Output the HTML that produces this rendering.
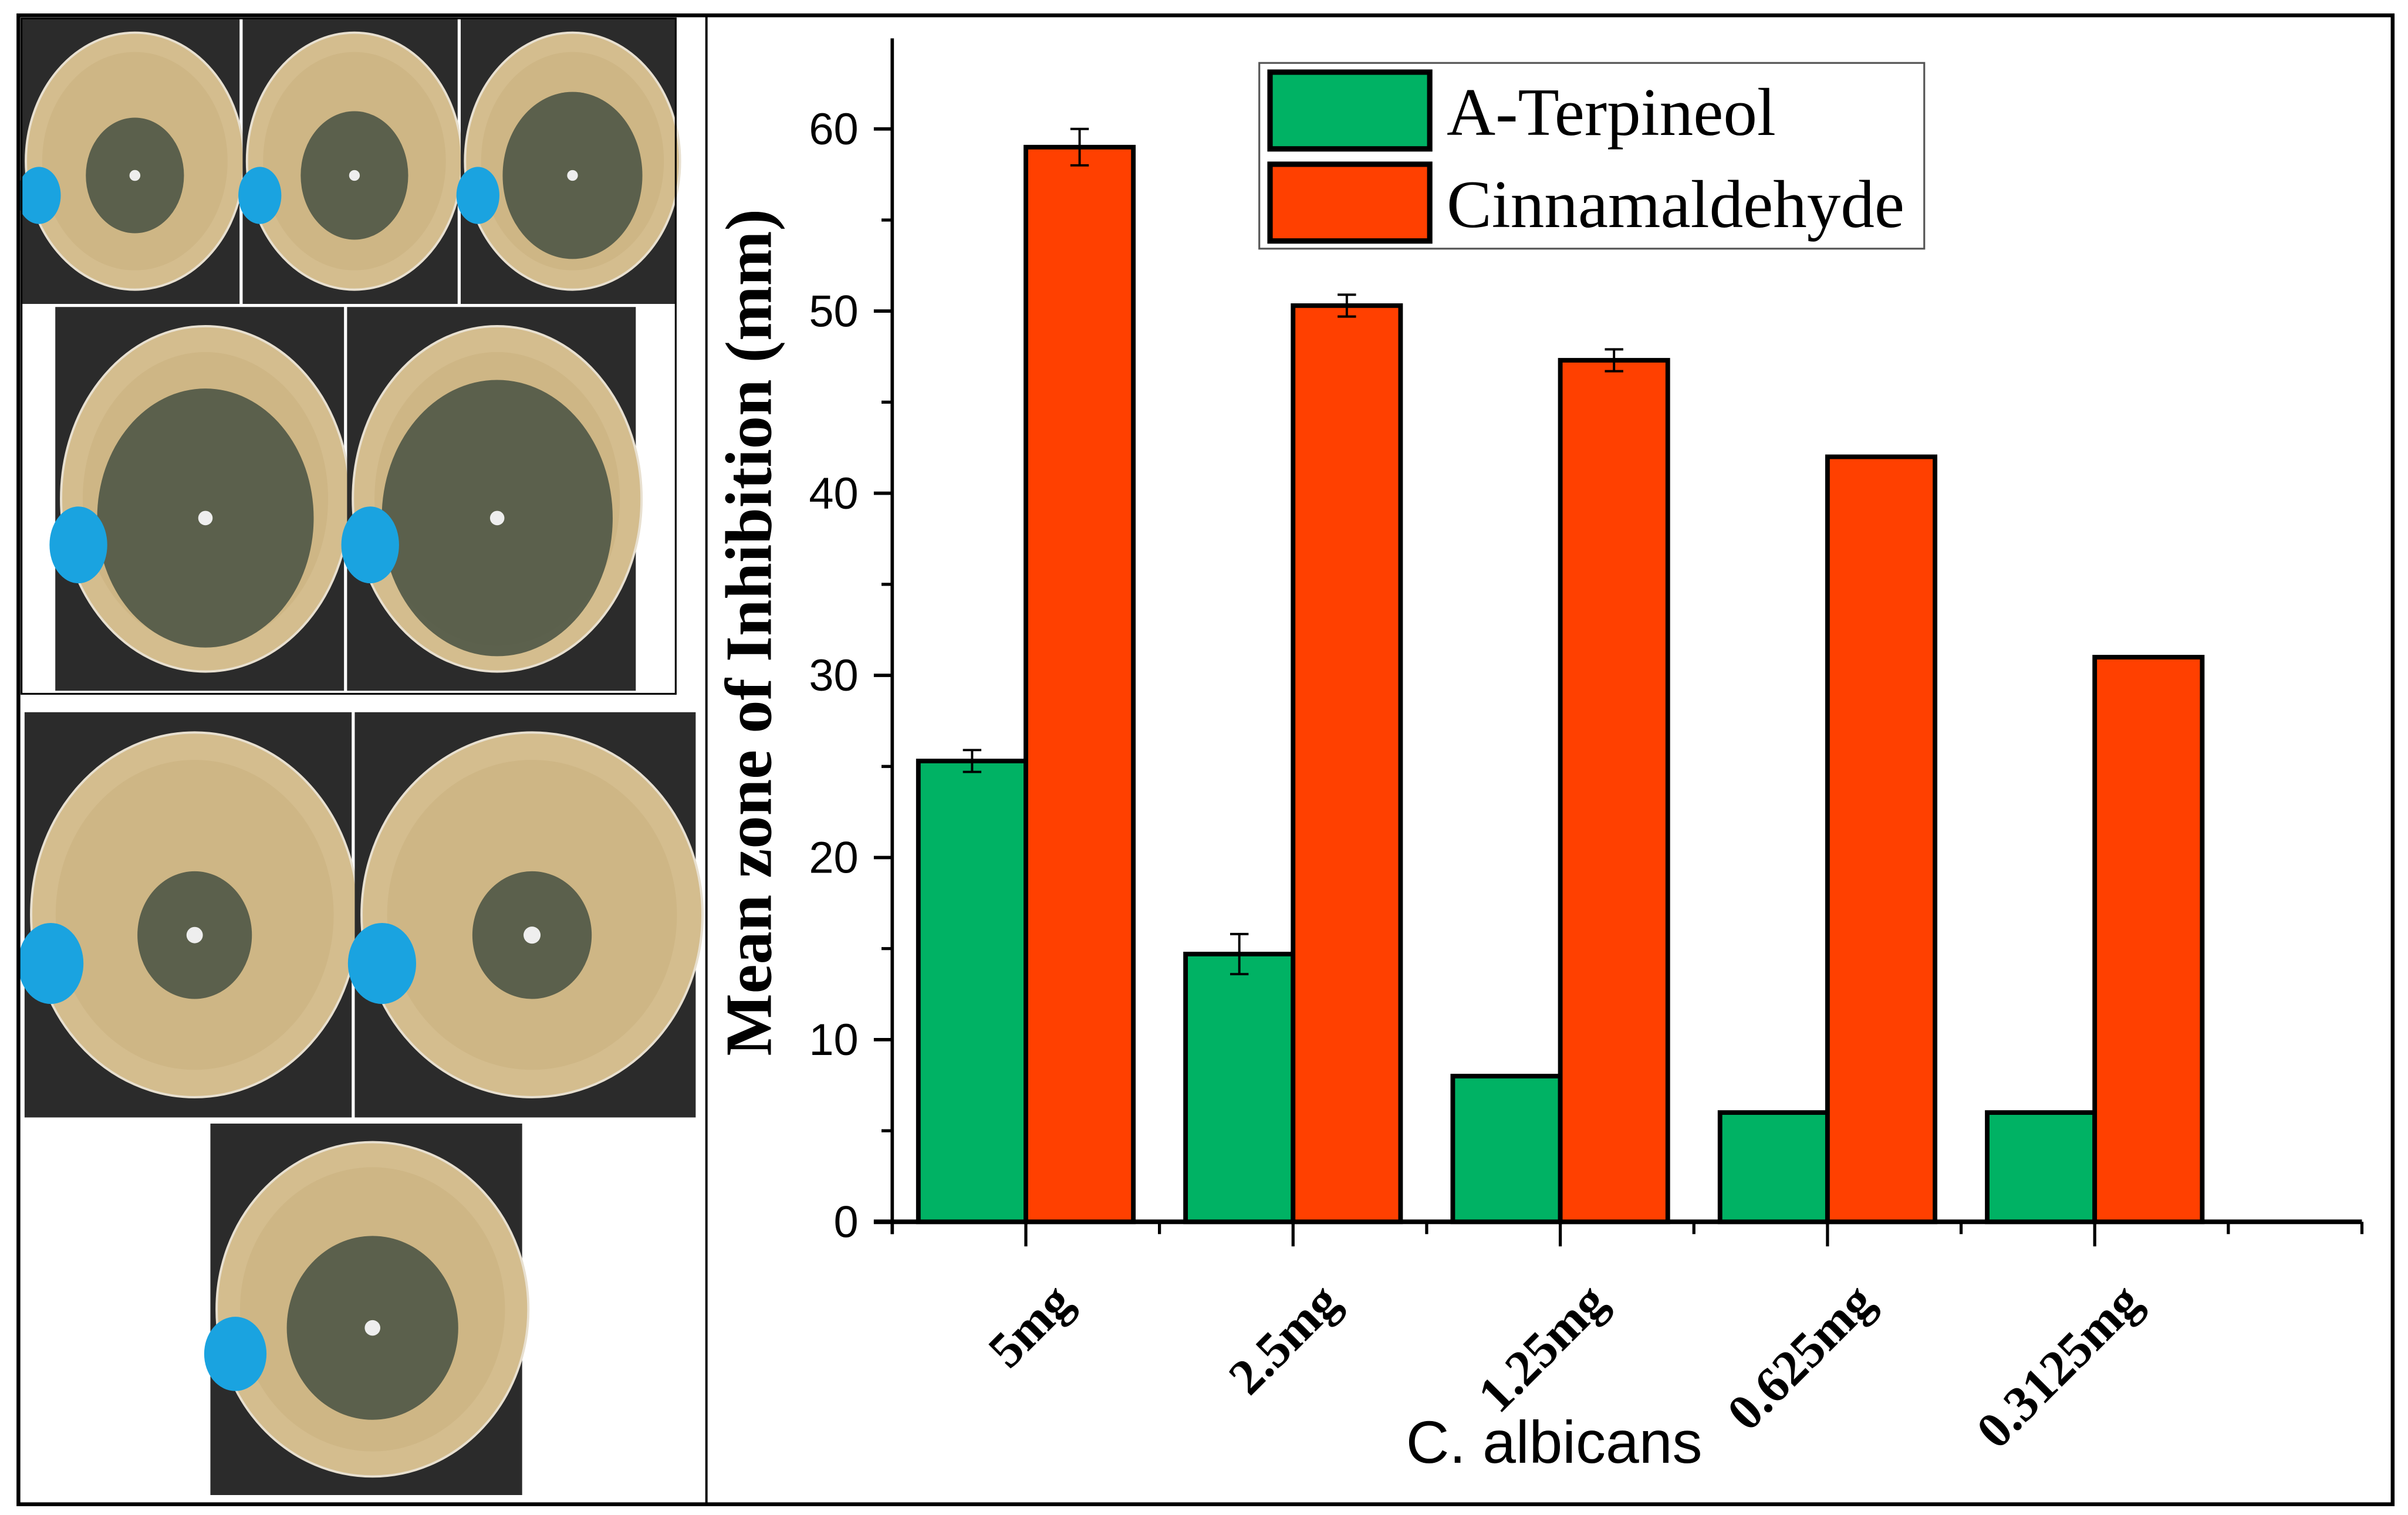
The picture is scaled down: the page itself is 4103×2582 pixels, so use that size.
<!DOCTYPE html>
<html><head><meta charset="utf-8"><style>
html,body{margin:0;padding:0;background:#fff}
svg{display:block}
</style></head><body>
<svg id="root" width="4103" height="2582" viewBox="0 0 1568 987" preserveAspectRatio="none" xmlns="http://www.w3.org/2000/svg">
  <rect x="0" y="0" width="1568" height="987" fill="#fff"/>
  <g id="photos"></g>
  <rect x="12" y="10" width="1546" height="970" fill="none" stroke="#000" stroke-width="2.5"/>
  <line x1="460" y1="10" x2="460" y2="980" stroke="#000" stroke-width="1.5"/>
  <rect x="14" y="12" width="426" height="440" fill="none" stroke="#000" stroke-width="1.2"/>
  <g id="chart"></g>
</svg>
<script>
const categories = ["5mg","2.5mg","1.25mg","0.625mg","0.3125mg"];
const terpineol = [25.3,14.7,8,6,6];
const terpineolErr = [0.6,1.1,0,0,0];
const cinnamaldehyde = [59,50.3,47.3,42,31];
const cinnamaldehydeErr = [1,0.6,0.6,0,0];
const yTicks = [0,10,20,30,40,50,60];

const NS="http://www.w3.org/2000/svg";
function mk(tag,attrs,parent){const e=document.createElementNS(NS,tag);for(const k in attrs)e.setAttribute(k,attrs[k]);parent.appendChild(e);return e;}

// photos
const ph=document.getElementById('photos');
const tiles=[[14,12,142,186,0.25],[158,12,140,186,0.3],[300,12,140,186,0.45],[36,200,188,250,0.55],[226,200,188,250,0.6],[16,464,213,264,0.15],[231,464,222,264,0.15],[137,732,203,242,0.35]];
tiles.forEach((t,i)=>{
  const [x,y,w,h,z]=t;
  const g=mk('g',{},ph);
  
  
  mk('rect',{x:x,y:y,width:w,height:h,fill:'#2b2b2b'},g);
  const cx=x+w*0.52, cy=y+h*0.5, rx=w*0.5, ry=h*0.45;
  mk('ellipse',{cx:cx,cy:cy,rx:rx,ry:ry,fill:'#d4bd8e',stroke:'#e8e0d0','stroke-width':1.5},g);
  mk('ellipse',{cx:cx,cy:cy,rx:rx*0.85,ry:ry*0.85,fill:'#c9b07e',opacity:0.6},g);
  mk('ellipse',{cx:cx,cy:cy+h*0.05,rx:rx*(0.2+z),ry:ry*(0.2+z),fill:'#4f5646',opacity:0.9},g);
  mk('circle',{cx:cx,cy:cy+h*0.05,r:Math.min(w,h)*0.025,fill:'#eee'},g);
  mk('ellipse',{cx:x+w*0.08,cy:y+h*0.62,rx:w*0.1,ry:h*0.1,fill:'#1aa3e0'},g);
});

// chart
const ch=document.getElementById('chart');
const X0=581, Y0=796, Y60=84, XR=1538;
const catW=174;
function yS(v){return Y0-(v/60)*(Y0-Y60);}
function xS(i){return X0+(i+0.5)*catW;}
const bw=70;

let e;
e=mk('line',{x1:X0,y1:25,x2:X0,y2:Y0+8,stroke:'#000','stroke-width':2.2},ch);


e=mk('line',{x1:X0-12,y1:Y0,x2:XR,y2:Y0,stroke:'#000','stroke-width':3},ch);



yTicks.forEach(v=>{
  mk('line',{x1:X0-12,y1:yS(v),x2:X0,y2:yS(v),stroke:'#000','stroke-width':2.2},ch);
  if(v<60) mk('line',{x1:X0-7,y1:yS(v+5),x2:X0,y2:yS(v+5),stroke:'#000','stroke-width':2},ch);
  const t=mk('text',{x:X0-22,y:yS(v)+10,'text-anchor':'end','font-family':'Liberation Sans, sans-serif','font-size':29},ch);
  t.textContent=v;
  
  
});
for(let i=0;i<=5;i++){
  mk('line',{x1:X0+i*catW,y1:Y0,x2:X0+i*catW,y2:Y0+8,stroke:'#000','stroke-width':2},ch);
}
mk('line',{x1:XR,y1:Y0,x2:XR,y2:Y0+8,stroke:'#000','stroke-width':2},ch);

categories.forEach((c,i)=>{
  const cx=xS(i);
  mk('line',{x1:cx,y1:Y0,x2:cx,y2:Y0+16,stroke:'#000','stroke-width':2},ch);
  const b1=mk('rect',{x:cx-bw,y:yS(terpineol[i]),width:bw,height:Y0-yS(terpineol[i]),fill:'#00b264',stroke:'#000','stroke-width':3},ch);
  
  
  const b2=mk('rect',{x:cx,y:yS(cinnamaldehyde[i]),width:bw,height:Y0-yS(cinnamaldehyde[i]),fill:'#ff4000',stroke:'#000','stroke-width':3},ch);
  
  
  [[cx-bw/2,terpineol[i],terpineolErr[i]],[cx+bw/2,cinnamaldehyde[i],cinnamaldehydeErr[i]]].forEach(p=>{
    if(p[2]>0){
      const g=mk('g',{stroke:'#000','stroke-width':1.5},ch);
      
      
      mk('line',{x1:p[0],y1:yS(p[1]+p[2]),x2:p[0],y2:yS(p[1]-p[2])},g);
      mk('line',{x1:p[0]-6,y1:yS(p[1]+p[2]),x2:p[0]+6,y2:yS(p[1]+p[2])},g);
      mk('line',{x1:p[0]-6,y1:yS(p[1]-p[2]),x2:p[0]+6,y2:yS(p[1]-p[2])},g);
    }
  });
  const ax=cx+32, ay=Y0+54;
  const t=mk('text',{x:ax,y:ay,'text-anchor':'end','font-family':'Liberation Serif, serif','font-weight':'bold','font-size':33,transform:'rotate(-45 '+ax+' '+ay+')'},ch);
  t.textContent=c;
  
  
});

e=mk('text',{x:0,y:0,'text-anchor':'middle','font-family':'Liberation Serif, serif','font-weight':'bold','font-size':43,transform:'translate(502 412) rotate(-90)'},ch);
e.textContent='Mean zone of Inhibition (mm)';


e=mk('text',{x:1012,y:953,'text-anchor':'middle','font-family':'Liberation Sans, sans-serif','font-size':39},ch);
e.textContent='C. albicans';



const lg=mk('g',{},ch);


mk('rect',{x:820,y:41,width:433,height:121,fill:'#fff',stroke:'#555','stroke-width':1.2},lg);
mk('rect',{x:827,y:47,width:104,height:50,fill:'#00b264',stroke:'#000','stroke-width':3.5},lg);
mk('rect',{x:827,y:107,width:104,height:50,fill:'#ff4000',stroke:'#000','stroke-width':3.5},lg);
e=mk('text',{x:942,y:88,'font-family':'Liberation Serif, serif','font-size':44},lg);
e.textContent='A-Terpineol';


e=mk('text',{x:942,y:148,'font-family':'Liberation Serif, serif','font-size':44},lg);
e.textContent='Cinnamaldehyde';


</script>
</body></html>
